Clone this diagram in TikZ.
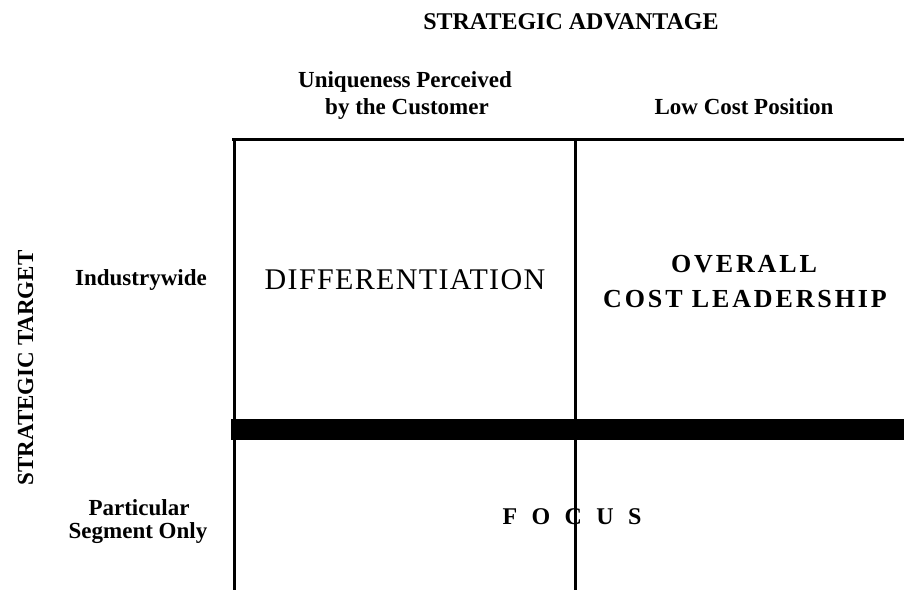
\documentclass[tikz,border=0pt]{standalone}
\usepackage{fontspec}
\setmainfont{Liberation Serif}
\newfontfamily\spacedfont{Liberation Serif}[LetterSpace=4.5]
\newfontfamily\widefont{Liberation Serif}[LetterSpace=11]
\begin{document}
\begin{tikzpicture}[x=1pt,y=-1pt,
  label/.style={font=\fontsize{23}{27}\selectfont\bfseries, inner sep=0pt, anchor=base},
  heading/.style={font=\fontsize{24}{28}\selectfont\bfseries, inner sep=0pt, anchor=base},
  strategy/.style={font=\fontsize{30}{34}\selectfont\spacedfont, inner sep=0pt, anchor=base},
  strategybold/.style={font=\fontsize{26}{30}\selectfont\widefont\bfseries, inner sep=0pt, anchor=base},
  gridline/.style={line width=3pt, black},
]
\useasboundingbox (0,0) rectangle (904,590);

% grid corners
\coordinate (tl) at (232,139.7);
\coordinate (tr) at (904,139.7);
\coordinate (lt) at (234.7,138.3);
\coordinate (lb) at (234.7,590);
\coordinate (mt) at (575,139);
\coordinate (mb) at (575,590);
\coordinate (bar1) at (231,419);
\coordinate (bar2) at (904,439.5);

% matrix frame
\draw[line width=2.7pt] (tl) -- (tr);
\draw[line width=3.5pt] (lt) -- (lb);
\draw[gridline] (mt) -- (mb);
\fill[black] (bar1) rectangle (bar2);

% axis headings
\node[heading] (adv) at (571,29) {STRATEGIC ADVANTAGE};
\node[label, rotate=90] (target) at (33,368) {STRATEGIC TARGET};

% column headings
\node[label] (uniq1) at (405,87) {Uniqueness Perceived};
\node[label] (uniq2) at (407,114) {by the Customer};
\node[label] (lowcost) at (744,114) {Low Cost Position};

% row headings
\node[label] (industry) at (141,285) {Industrywide};
\node[label] (part1) at (139,515) {Particular};
\node[label] (part2) at (138,538) {Segment Only};

% generic strategies
\node[strategy] (diff) at (405,289) {DIFFERENTIATION};
\node[strategybold] (overall1) at (744,272) {OVERALL};
\node[strategybold] (overall2) at (745,307) {COST LEADERSHIP};
\node[heading] (focus) at (572,524) {F\kern14.4pt O\kern14.4pt C\kern14.4pt U\kern14.4pt S};
\end{tikzpicture}
\end{document}
